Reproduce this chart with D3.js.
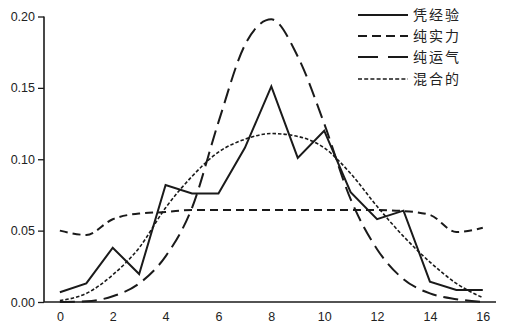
<!DOCTYPE html>
<html>
<head>
<meta charset="utf-8">
<script src="https://cdn.jsdelivr.net/npm/d3@7"></script>
<style>
  body { margin: 0; background: #fff; }
  svg { display: block; }
</style>
</head>
<body>
<svg id="chart"></svg>
<script>
var xs = [0,1,2,3,4,5,6,7,8,9,10,11,12,13,14,15,16];
var experience = [0.0068,0.013,0.038,0.0196,0.082,0.076,0.076,0.108,0.151,0.101,0.120,0.077,0.058,0.064,0.0143,0.0084,0.0084];
var skill = [0.050,0.047,0.058,0.062,0.063,0.0645,0.0645,0.0645,0.0645,0.0645,0.0645,0.0645,0.0644,0.0637,0.061,0.049,0.052];
var luck = [0,0.0005,0.004,0.013,0.032,0.066,0.126,0.18,0.198,0.172,0.125,0.072,0.037,0.016,0.006,0.002,0];
var mixed = [0.001,0.006,0.019,0.038,0.066,0.088,0.105,0.114,0.118,0.116,0.108,0.090,0.067,0.046,0.028,0.013,0.003];
var seriesNames = ["凭经验", "纯实力", "纯运气", "混合的"];
var xTicks = [0,2,4,6,8,10,12,14,16];
var yTicks = [0,0.05,0.10,0.15,0.20];

var svgWidth = 515, svgHeight = 329;
var plotLeft = 44, plotRight = 496, plotTop = 16.5, plotBottom = 302;
var ink = "#1a1a1a";

var svg = d3.select("#chart").attr("width", svgWidth).attr("height", svgHeight);

var xScale = d3.scaleLinear().domain([-0.6, 16.5]).range([plotLeft, plotRight]);
var yScale = d3.scaleLinear().domain([0, 0.2]).range([plotBottom, plotTop]);

var styles = [
  {data: experience, dash: null, width: 2, curve: d3.curveLinear, legendDash: null},
  {data: skill, dash: "8,5", width: 2, curve: d3.curveMonotoneX, legendDash: "9,5"},
  {data: luck, dash: "15,7", width: 2, curve: d3.curveMonotoneX, legendDash: "20,10"},
  {data: mixed, dash: "3.5,2", width: 1.6, curve: d3.curveMonotoneX, legendDash: "4,2.2"}
];

// axes
var x_axis = d3.axisBottom(xScale).tickValues(xTicks).tickSize(0).tickPadding(10).tickFormat(d3.format("d"));
var y_axis = d3.axisLeft(yScale).tickValues(yTicks).tickSize(6).tickPadding(3).tickFormat(d3.format(".2f"));

var gx = svg.append("g")
  .attr("transform", "translate(0," + plotBottom + ")")
  .call(x_axis);
var gy = svg.append("g")
  .attr("transform", "translate(" + plotLeft + ",0)")
  .call(y_axis);

[gx, gy].forEach(function(g) {
  g.selectAll("path.domain").attr("stroke", ink).attr("stroke-width", 1.6);
  g.selectAll("line").attr("stroke", ink).attr("stroke-width", 1.3);
  g.selectAll("text")
    .style("font-family", "'Liberation Sans', Arial, sans-serif")
    .style("font-size", "12.5px")
    .attr("fill", "#222");
});
gy.select("path.domain").attr("d", "M0," + plotTop + "V" + plotBottom);
gx.select("path.domain").attr("d", "M" + plotLeft + ",0H" + plotRight);

// lines
styles.forEach(function(s) {
  var line = d3.line()
    .x(function(d, i) { return xScale(xs[i]); })
    .y(function(d) { return yScale(d); })
    .curve(s.curve);
  svg.append("path")
    .datum(s.data)
    .attr("d", line)
    .attr("fill", "none")
    .attr("stroke", ink)
    .attr("stroke-width", s.width)
    .attr("stroke-linejoin", "miter")
    .attr("stroke-dasharray", s.dash);
});

// legend
var legendY = [15, 36, 57, 79];
var legend = svg.append("g");
seriesNames.forEach(function(name, i) {
  legend.append("line")
    .attr("x1", 358).attr("x2", 408)
    .attr("y1", legendY[i]).attr("y2", legendY[i])
    .attr("stroke", ink)
    .attr("stroke-width", styles[i].width)
    .attr("stroke-dasharray", styles[i].legendDash);
  legend.append("text")
    .attr("x", 413)
    .attr("y", legendY[i] + 5)
    .style("font-family", "'Noto Sans CJK SC', sans-serif")
    .style("font-size", "14px")
    .style("letter-spacing", "2px")
    .attr("fill", "#222")
    .text(name);
});
</script>
</body>
</html>
